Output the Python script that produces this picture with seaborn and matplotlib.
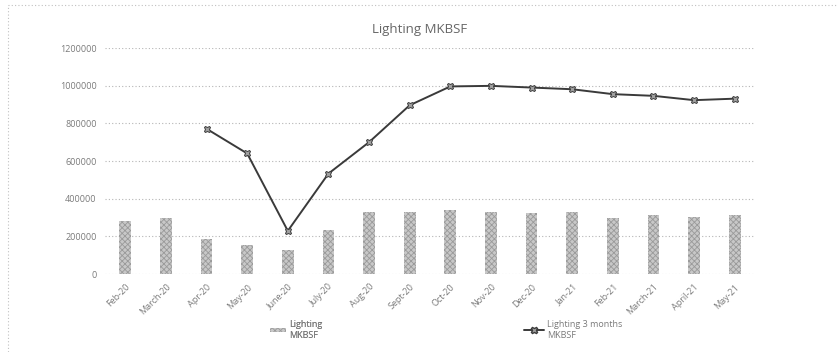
import numpy as np
import pandas as pd
import matplotlib
matplotlib.use("Agg")
import matplotlib.pyplot as plt
import seaborn as sns
from matplotlib.patches import Rectangle, Patch
from matplotlib.lines import Line2D

months = ["Feb-20", "March-20", "Apr-20", "May-20", "June-20", "July-20", "Aug-20",
          "Sept-20", "Oct-20", "Nov-20", "Dec-20", "Jan-21", "Feb-21", "March-21",
          "April-21", "May-21"]
lighting = [283000, 298000, 187000, 155000, 128000, 235000, 327000, 331000,
            338000, 327000, 323000, 331000, 297000, 311000, 302000, 313000]
lighting_3m = [np.nan, np.nan, 771000, 640000, 229000, 533000, 700000, 896000,
               996000, 999000, 990000, 981000, 955000, 946000, 923000, 931000]
y_ticks = [0, 200000, 400000, 600000, 800000, 1000000, 1200000]

df = pd.DataFrame({"month": months, "pos": np.arange(len(months)),
                   "lighting": lighting, "lighting_3m": lighting_3m})

sns.set_style("white")
plt.rcParams["font.family"] = ["Open Sans", "DejaVu Sans"]
plt.rcParams["hatch.linewidth"] = 0.6

text_col = "#7a7a7a"
bar_face = "#c8c8c8"
bar_hatch = "#9a9a9a"
line_col = "#3a3a3a"

fig = plt.figure(figsize=(8.38, 3.52), dpi=100)
ax = fig.add_axes([105 / 838, 1 - 274 / 352, 650 / 838, 226 / 352])

sns.barplot(data=df, x="month", y="lighting", ax=ax, color=bar_face,
            width=0.29, saturation=1, edgecolor="none", order=months)
for p in ax.patches:
    p.set_hatch("xxxxxx")
    p.set_edgecolor(bar_hatch)
    p.set_linewidth(0)

sns.lineplot(data=df.dropna(), x="pos", y="lighting_3m", ax=ax, color=line_col,
             linewidth=1.4, marker="X", markersize=4.5, markeredgecolor=line_col,
             markerfacecolor="#a0a0a0", markeredgewidth=0.7)

ax.set_xlim(-0.5, len(months) - 0.5)
ax.set_ylim(0, 1200000)
ax.set_yticks(y_ticks)
ax.set_yticklabels([str(v) for v in y_ticks], fontsize=6.5, color=text_col)
ax.set_xticks(np.arange(len(months)))
ax.set_xticklabels(months, rotation=45, ha="right", rotation_mode="anchor",
                   fontsize=6.5, color=text_col)
ax.tick_params(axis="both", length=0, pad=6)
ax.set_xlabel("")
ax.set_ylabel("")
for s in ax.spines.values():
    s.set_visible(False)
ax.grid(axis="y", linestyle=(0, (1, 2)), color="#b5b5b5", linewidth=0.8)
ax.set_axisbelow(True)

fig.text(420 / 838, 1 - 30 / 352, "Lighting MKBSF", ha="center", va="center",
         fontsize=9.5, color="#666666")

bar_handle = Patch(facecolor=bar_face, hatch="xxxxxx", edgecolor=bar_hatch, linewidth=0)
line_handle = Line2D([], [], color=line_col, linewidth=1.4, marker="X", markersize=4.5,
                     markeredgecolor=line_col, markerfacecolor="#a0a0a0")
leg1 = fig.legend([bar_handle], ["Lighting\nMKBSF"], loc="upper left",
                  bbox_to_anchor=(262 / 838, 1 - 312 / 352), frameon=False,
                  fontsize=6.5, labelcolor=text_col, handlelength=1.8,
                  handleheight=0.4, handletextpad=0.3)
leg2 = fig.legend([line_handle], ["Lighting 3 months\nMKBSF"], loc="upper left",
                  bbox_to_anchor=(516 / 838, 1 - 312 / 352), frameon=False,
                  fontsize=6.5, labelcolor=text_col, handlelength=2.2,
                  handletextpad=0.3)
fig.add_artist(leg1)

fig.patches.append(Rectangle((8 / 838, -0.1), 1.1, 1 - 5 / 352 + 0.1,
                             transform=fig.transFigure, fill=False,
                             edgecolor="#c0c0c0", linestyle=(0, (1, 2)),
                             linewidth=0.8))

fig.savefig("out.png", dpi=100)
